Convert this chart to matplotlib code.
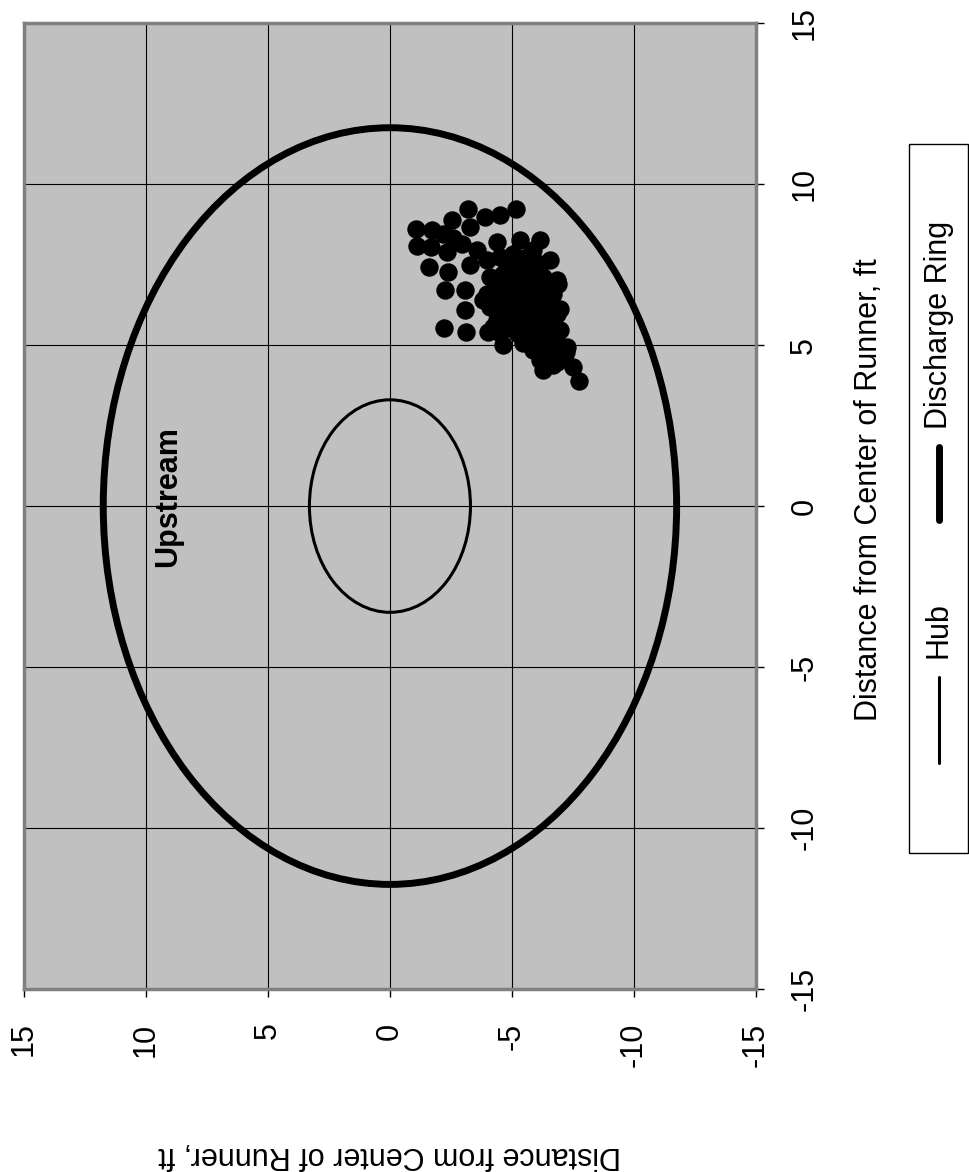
#!/usr/bin/env python3

# runner_strike_plot.py
#
# Strike locations on the turbine runner, drawn turned on its side like the scanned page.
import matplotlib
matplotlib.use('Agg')
import matplotlib.pyplot as plt
from matplotlib.patches import Circle, Rectangle
from matplotlib.lines import Line2D

# Strike locations, ft from the runner centre (x across the runner, y along it)
STRIKE_X = [8.62, 8.07, 7.43, 8.57, 8.46, 8.31, 8.15, 8.90, 9.24, 8.98,
            9.03, 9.24, 8.67, 8.05, 7.90, 6.70, 7.27, 6.08, 5.53, 5.41,
            7.48, 7.95, 6.70, 5.41, 5.00, 8.26, 7.64, 6.91, 6.13, 4.79,
            4.32, 3.88, 4.22, 4.48, 8.20, 8.26, 7.95,
            7.64, 7.74, 7.84, 7.74, 7.53, 7.12, 7.22, 7.33, 7.22, 7.12,
            7.01, 6.60, 6.70, 6.81, 6.70, 6.60, 6.60, 6.19, 6.19, 6.29,
            6.19, 6.08, 5.98, 5.77, 5.77, 5.77, 5.67, 5.57, 5.46, 5.36,
            5.27, 5.15, 5.05, 4.94, 4.84, 4.74, 4.63, 5.57, 5.36, 6.39,
            7.53, 7.53, 7.43, 6.91, 7.01, 7.01, 6.91, 6.81, 6.39, 6.50,
            6.50, 6.39, 6.29, 5.98, 5.98, 5.98, 5.88, 5.77, 5.57, 5.51,
            5.41, 5.31, 5.05, 5.00, 4.89, 4.53, 4.37]
STRIKE_Y = [-1.07, -1.12, -1.61, -1.71, -2.19, -2.60, -2.94, -2.53, -3.21, -3.89,
            -4.51, -5.16, -3.28, -1.67, -2.32, -2.25, -2.39, -3.07, -2.21, -3.10,
            -3.28, -3.55, -3.07, -4.03, -4.64, -6.15, -6.56, -6.90, -6.97, -7.20,
            -7.51, -7.75, -6.28, -6.83, -4.37, -5.33, -5.87,
            -3.96, -4.51, -5.05, -5.60, -6.15, -4.10, -4.64, -5.19, -5.74, -6.28,
            -6.83, -3.96, -4.51, -5.05, -5.60, -6.15, -6.69, -4.10, -4.64, -5.19,
            -5.74, -6.28, -6.83, -4.37, -4.92, -5.46, -6.01, -6.56, -6.97, -5.19,
            -5.74, -6.28, -6.83, -7.24, -5.87, -6.42, -6.97, -4.24, -4.51, -3.83,
            -4.78, -5.33, -5.87, -4.37, -4.92, -5.46, -6.01, -6.56, -4.37, -4.92,
            -5.46, -6.01, -6.56, -4.64, -5.19, -5.74, -6.28, -6.69, -4.92, -5.46,
            -6.01, -6.56, -5.46, -6.01, -6.56, -6.15, -6.69]

SERIES = ['Hub', 'Discharge Ring']
RADII = [3.3, 11.75]
WIDTHS = [2.2, 5.0]
TICKS = [-15, -10, -5, 0, 5, 10, 15]
AXIS_LABEL = 'Distance from Center of Runner, ft'

FONT = 22


def main():
    plt.rcParams['font.family'] = ['Liberation Sans', 'DejaVu Sans']
    plt.rcParams['axes.unicode_minus'] = False
    figure = plt.figure(figsize=(9.7, 11.72), dpi=100)
    ax = figure.add_axes([0.0247, 0.1561, 0.7546, 0.8242])
    ax.set_facecolor('#C0C0C0')

    # Page is turned: runner y runs across the page (reversed), runner x runs up it
    ax.set_xlim(15, -15)
    ax.set_ylim(-15, 15)
    ax.set_xticks(TICKS)
    ax.set_yticks(TICKS)
    ax.grid(True, color='black', linewidth=0.8)
    ax.set_axisbelow(True)

    for radius, width in zip(RADII, WIDTHS):
        ax.add_patch(Circle((0, 0), radius, fill=False, edgecolor='black', linewidth=width, zorder=3))
    ax.scatter(STRIKE_Y, STRIKE_X, s=150, color='black', zorder=4)

    ax.text(9.1, 0.3, 'Upstream', rotation=90, ha='center', va='center',
            fontsize=FONT, fontweight='bold', zorder=5)

    # Axes, ticks and labels
    for side in ['top', 'left', 'bottom', 'right']:
        ax.spines[side].set_color('#808080')
        ax.spines[side].set_linewidth(2.5)
    ax.yaxis.tick_right()
    ax.tick_params(axis='both', direction='out', length=6, width=1, color='black',
                   labelsize=FONT, pad=18)
    for label in ax.get_xticklabels():
        label.set_rotation(90)
    for label in ax.get_yticklabels():
        label.set_rotation(90)
        label.set_va('center')

    ax.set_xlabel(AXIS_LABEL, fontsize=FONT, rotation=180, ha='center', va='center')
    ax.xaxis.set_label_coords(0.5, -0.172)
    ax.yaxis.set_label_position('right')
    ax.set_ylabel(AXIS_LABEL, fontsize=FONT, rotation=90, ha='center', va='center')
    ax.yaxis.set_label_coords(1.154, 0.5166)

    # Legend, drawn by hand since it is turned with the page
    figure.add_artist(Rectangle((0.937, 0.272), 0.061, 0.605, transform=figure.transFigure,
                                fill=False, edgecolor='black', linewidth=1))
    line_spans = [(0.349, 0.422), (0.556, 0.619)]
    text_centres = [0.462, 0.723]
    for name, width, span, centre in zip(SERIES, WIDTHS, line_spans, text_centres):
        figure.add_artist(Line2D([0.968, 0.968], span, transform=figure.transFigure,
                                 color='black', linewidth=width, solid_capstyle='round'))
        figure.text(0.968, centre, name, rotation=90, ha='center', va='center', fontsize=FONT)

    plt.savefig('out.png', dpi=100)


if __name__ == '__main__':
    main()
